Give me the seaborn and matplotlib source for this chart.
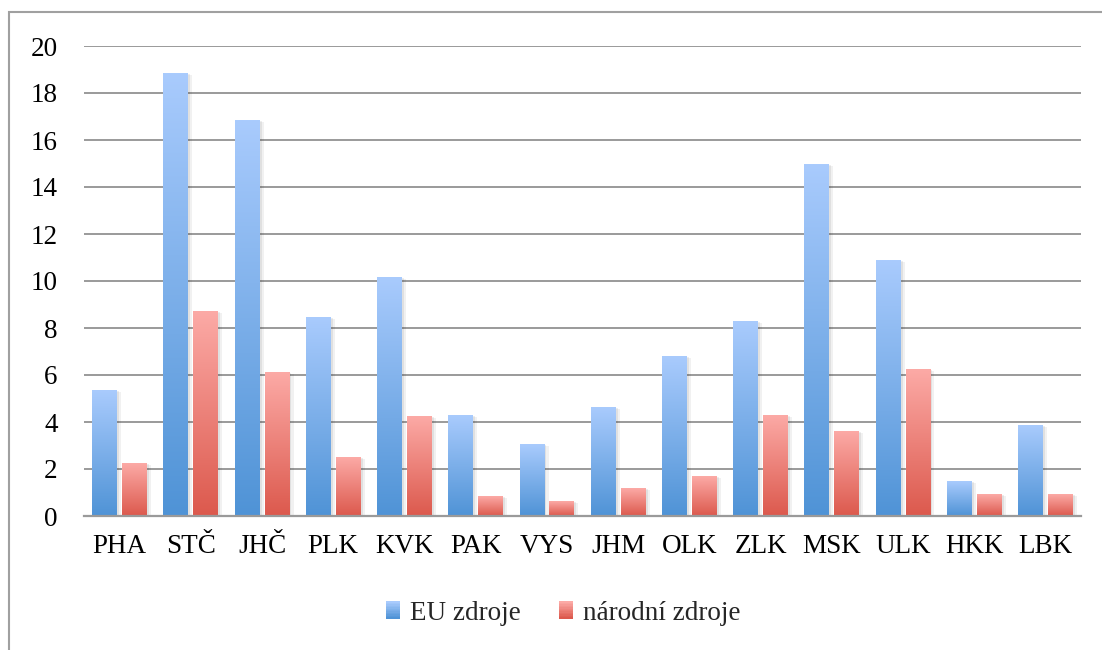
import numpy as np
import pandas as pd
import matplotlib
matplotlib.use("Agg")
import matplotlib.pyplot as plt
import seaborn as sns
from matplotlib.patches import Rectangle
from matplotlib.colors import LinearSegmentedColormap
from matplotlib.legend_handler import HandlerBase
import matplotlib.patheffects as pe

# ---- data ----
regions = ["PHA", "STČ", "JHČ", "PLK", "KVK", "PAK", "VYS", "JHM", "OLK", "ZLK", "MSK", "ULK", "HKK", "LBK"]
eu_zdroje = [5.35, 18.84, 16.84, 8.45, 10.16, 4.28, 3.05, 4.62, 6.79, 8.28, 14.96, 10.88, 1.48, 3.86]
narodni_zdroje = [2.24, 8.71, 6.11, 2.50, 4.24, 0.84, 0.62, 1.18, 1.69, 4.28, 3.60, 6.24, 0.92, 0.92]
series_names = ["EU zdroje", "národní zdroje"]
y_ticks = [0, 2, 4, 6, 8, 10, 12, 14, 16, 18, 20]

# ---- styles ----
blue_top, blue_bot = "#A9CBFD", "#4F93D6"
red_top, red_bot = "#FCAAA6", "#DC594D"
cmaps = [LinearSegmentedColormap.from_list("b", [blue_bot, blue_top]),
         LinearSegmentedColormap.from_list("r", [red_bot, red_top])]
grid_col = "#9a9a9a"

sns.set_theme(style="white")
plt.rcParams['font.family'] = ['Liberation Serif', 'DejaVu Serif']

df = pd.DataFrame({
    "region": regions * 2,
    "value": eu_zdroje + narodni_zdroje,
    "zdroj": [series_names[0]] * len(regions) + [series_names[1]] * len(regions),
})

W, H = 1102, 650
fig = plt.figure(figsize=(W / 100, H / 100), dpi=100)
fig.patch.set_facecolor("white")
ax = fig.add_axes([84 / W, 1 - 516 / H, (1081 - 84) / W, (516 - 46) / H])

sns.barplot(data=df, x="region", y="value", hue="zdroj",
            palette=["#7BAEEA", "#EE8580"], width=0.84, gap=0.17,
            ax=ax, legend=False, zorder=3)

grad = np.linspace(0, 1, 256).reshape(-1, 1)
for ci, cont in enumerate(ax.containers):
    for bar in cont:
        x, w, h = bar.get_x(), bar.get_width(), bar.get_height()
        ax.imshow(grad, extent=[x, x + w, 0, h], aspect="auto", cmap=cmaps[ci],
                  origin="lower", zorder=3, interpolation="bilinear")
        bar.set_facecolor("none")
        bar.set_edgecolor("none")
        bar.set_path_effects([
            pe.SimplePatchShadow(offset=(3, -1), shadow_rgbFace="k", alpha=0.06),
            pe.SimplePatchShadow(offset=(1.5, -0.5), shadow_rgbFace="k", alpha=0.08),
        ])

ax.set_xlim(-0.5, len(regions) - 0.5)
ax.set_ylim(0, 20)
ax.set_yticks(y_ticks)
ax.set_yticklabels([str(t) for t in y_ticks])
ax.yaxis.grid(True, color=grid_col, lw=1.4)
ax.xaxis.grid(False)
ax.set_axisbelow(True)
for s in ["top", "right", "left"]:
    ax.spines[s].set_visible(False)
ax.spines["bottom"].set_color(grid_col)
ax.spines["bottom"].set_linewidth(1.6)
ax.spines["bottom"].set_zorder(4)
ax.tick_params(axis="y", length=0, pad=19, labelsize=19.5, labelcolor="black")
ax.tick_params(axis="x", length=0, pad=13, labelsize=19.5, labelcolor="black")
ax.set_xlabel("")
ax.set_ylabel("")


class GradHandler(HandlerBase):
    def create_artists(self, legend, orig_handle, xdescent, ydescent, width, height, fontsize, trans):
        cmap = orig_handle._grad_cmap
        n = 12
        arts = []
        for i in range(n):
            r = Rectangle((-xdescent, -ydescent + height * i / n), width, height / n + 0.05,
                          facecolor=cmap(i / (n - 1)), edgecolor="none", transform=trans)
            arts.append(r)
        return arts


handles = []
for ci, name in enumerate(series_names):
    hnd = Rectangle((0, 0), 1, 1, label=name)
    hnd._grad_cmap = cmaps[ci]
    handles.append(hnd)

fig.legend(handles=handles, labels=series_names, loc="center",
           bbox_to_anchor=(563 / W, 1 - 613 / H), ncol=2, frameon=False,
           fontsize=19.5, handlelength=0.55, handleheight=0.6, handletextpad=0.35,
           columnspacing=1.4, handler_map={Rectangle: GradHandler()})

# outer chart frame
fig.add_artist(Rectangle((9 / W, -0.1), 1.2, (1 - 12 / H) + 0.1, transform=fig.transFigure,
                         fill=False, edgecolor="#a0a0a0", lw=1.5))

fig.savefig("out.png", dpi=100)
